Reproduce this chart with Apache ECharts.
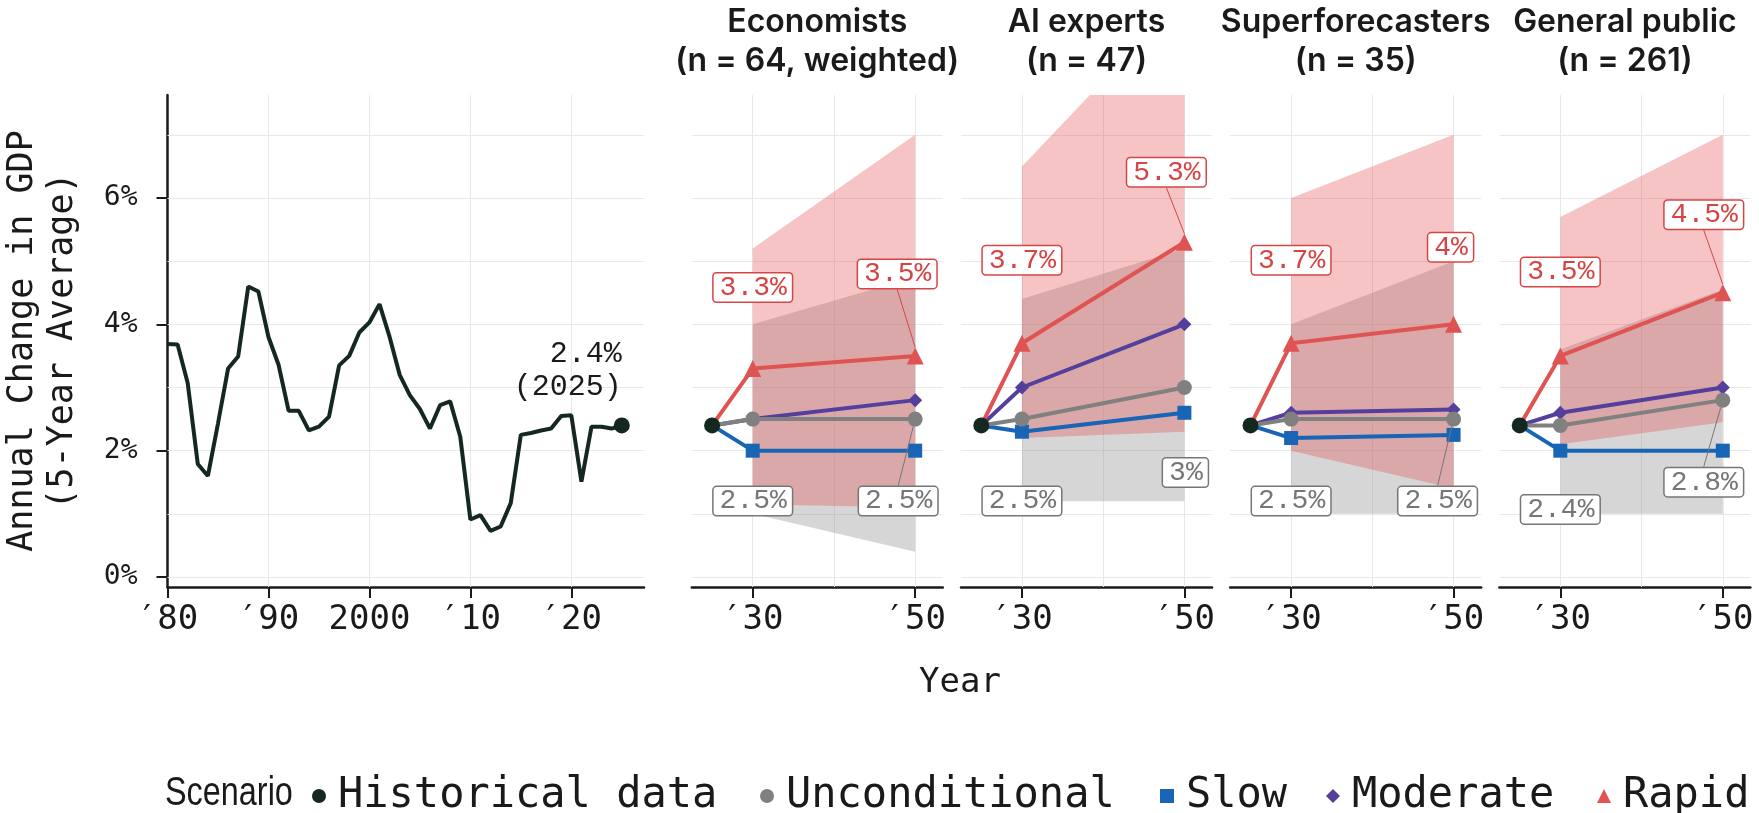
<!DOCTYPE html>
<html>
<head>
<meta charset="utf-8">
<script src="https://cdn.jsdelivr.net/npm/echarts@6/dist/echarts.min.js"></script>
<style>
html,body{margin:0;padding:0;background:#ffffff;}
#chart{width:1759px;height:813px;}
</style>
</head>
<body>
<div id="chart"></div>
<script>
// ---------------- DATA ----------------
const histYears = [1980,1981,1982,1983,1984,1985,1986,1987,1988,1989,
                   1990,1991,1992,1993,1994,1995,1996,1997,1998,1999,
                   2000,2001,2002,2003,2004,2005,2006,2007,2008,2009,
                   2010,2011,2012,2013,2014,2015,2016,2017,2018,2019,
                   2020,2021,2022,2023,2024,2025];
const histValues = [3.69,3.68,3.07,1.79,1.60,2.43,3.30,3.49,4.60,4.52,
                    3.80,3.36,2.63,2.63,2.32,2.38,2.54,3.35,3.50,3.87,
                    4.03,4.32,3.80,3.20,2.88,2.66,2.35,2.72,2.78,2.22,
                    0.91,0.98,0.73,0.80,1.17,2.25,2.28,2.32,2.35,2.55,
                    2.56,1.51,2.38,2.38,2.35,2.40];

const panelTitles = ['Economists\n(n = 64, weighted)', 'AI experts\n(n = 47)',
                     'Superforecasters\n(n = 35)', 'General public\n(n = 261)'];
const baseYear = 2025;
const baseValue = 2.4;
const forecastYears = [2030, 2050];

// median forecasts per panel: [2030, 2050]
const unconditional = [[2.5, 2.5], [2.5, 3.0], [2.5, 2.5], [2.4, 2.8]];
const slow          = [[2.0, 2.0], [2.3, 2.6], [2.2, 2.25], [2.0, 2.0]];
const moderate      = [[2.5, 2.8], [3.0, 4.0], [2.6, 2.65], [2.6, 3.0]];
const rapid         = [[3.3, 3.5], [3.7, 5.3], [3.7, 4.0], [3.5, 4.5]];

// ranges per panel: [2030, 2050]
const unconditionalLow  = [[1.0, 0.4], [1.2, 1.2], [1.0, 1.0], [1.0, 1.0]];
const unconditionalHigh = [[4.0, 4.75], [4.4, 5.2], [4.0, 5.0], [3.6, 4.55]];
const rapidLow          = [[1.15, 1.1], [2.2, 2.3], [2.0, 1.4], [2.1, 2.45]];
const rapidHigh         = [[5.2, 7.0], [6.5, 9.2], [6.0, 7.0], [5.7, 7.0]];

// axes
const histTicks = [1980, 1990, 2000, 2010, 2020];
const histTickLabels = ['\u203280', '\u203290', '2000', '\u203210', '\u203220'];
const histGridX = [1990, 2000, 2010, 2020];
const panelTicks = [2030, 2050];
const panelTickLabels = ['\u203230', '\u203250'];
const panelGridX = [2030, 2040, 2050];
const yTicks = [0, 2, 4, 6];
const yTickLabels = ['0%', '2%', '4%', '6%'];
const yGrid = [0, 1, 2, 3, 4, 5, 6, 7];

const legendNames = ['Historical data', 'Unconditional', 'Slow', 'Moderate', 'Rapid'];

// ---------------- LAYOUT / STYLE ----------------
const DARK = '#1a1a1a';
const MONO = '"DejaVu Sans Mono", monospace';
const LABEL_MONO = '"Liberation Mono", "DejaVu Sans Mono", monospace';
const COLORS = {
  'Historical data': '#15281f',
  'Unconditional': '#808080',
  'Slow': '#1765b4',
  'Moderate': '#553f9c',
  'Rapid': '#e05353'
};
const SYMBOLS = {'Historical data':'circle','Unconditional':'circle','Slow':'rect','Moderate':'diamond','Rapid':'triangle'};
const SYMBOL_SIZES = {'Historical data':16,'Unconditional':15,'Slow':14,'Moderate':14,'Rapid':17};
const Y_MIN = -0.158, Y_MAX = 7.63;
const PLOT_TOP = 95, PLOT_H = 492;
const HIST_LEFT = 167.5, HIST_W = 476.5, HIST_XMIN = 1980, HIST_XMAX = 2027.2;
const PANEL_LEFT0 = 691.8, PANEL_STEP = 269.2, PANEL_W = 251;
const PANEL_XMIN = 2022.5, PANEL_XMAX = 2053.4;
const GRID_COLOR = '#e8e8e8';
const BAND_GREY = 'rgba(140,140,140,0.36)';
const BAND_RED = 'rgba(226,72,72,0.32)';

// label placement (offsets of label centre from point, px) – layout only
const LABEL_OFFSETS = {
  'Rapid': [[[0,-81],[-18,-82]], [[0,-83],[-18,-70]], [[0,-83],[-3,-77]], [[0,-84],[-19,-78]]],
  'Unconditional': [[[0,82],[-17,82]], [[0,82],[1,85]], [[0,82],[-16,82]], [[0,84],[-19,82]]]
};
const LEADER = {
  'Rapid': [[false,true],[false,true],[false,false],[false,true]],
  'Unconditional': [[false,true],[false,false],[false,true],[false,true]]
};
const LEGEND_LEFT = [312, 760, 1160, 1326, 1597];

const fmtPct = v => (Math.round(v * 10) / 10) + '%';

// ---------------- OPTION ----------------
const grids = [{left: HIST_LEFT, top: PLOT_TOP, width: HIST_W, height: PLOT_H}];
const xAxes = [{
  gridIndex: 0, type: 'value', min: HIST_XMIN, max: HIST_XMAX,
  axisLine: {show: true, onZero: false, lineStyle: {color: DARK, width: 2.5}},
  axisTick: {show: true, customValues: histTicks, length: 11, lineStyle: {color: DARK, width: 2}},
  axisLabel: {customValues: histTicks, formatter: v => { const i = histTicks.indexOf(v); return i >= 0 ? histTickLabels[i] : ''; },
              fontFamily: MONO, fontSize: 34, color: DARK, margin: 16},
  splitLine: {show: false}
}];
const yAxes = [{
  gridIndex: 0, type: 'value', min: Y_MIN, max: Y_MAX,
  axisLine: {show: true, onZero: false, lineStyle: {color: DARK, width: 2.5}},
  axisTick: {show: true, customValues: yTicks, length: 11, lineStyle: {color: DARK, width: 2}},
  axisLabel: {customValues: yTicks, formatter: v => { const i = yTicks.indexOf(v); return i >= 0 ? yTickLabels[i] : ''; },
              fontFamily: MONO, fontSize: 28, color: DARK, margin: 30},
  splitLine: {show: false},
  name: 'Annual Change in GDP\n(5-Year Average)', nameLocation: 'middle', nameGap: 85, nameRotate: 90,
  nameTextStyle: {fontFamily: MONO, fontSize: 35, lineHeight: 40, color: DARK}
}];
const titles = [];
const series = [];

function gridMarkLine(xs) {
  return {
    silent: true, z: 1, symbol: ['none', 'none'], label: {show: false}, animation: false,
    emphasis: {disabled: true},
    lineStyle: {color: GRID_COLOR, width: 1, type: 'solid'},
    data: yGrid.map(v => ({yAxis: v})).concat(xs.map(v => ({xAxis: v})))
  };
}

// band between low and high, drawn as polygons through the axes
function bandSeries(gi, low, high, color) {
  const rows = [];
  for (let i = 0; i < forecastYears.length - 1; i++) {
    rows.push([forecastYears[i], low[i], high[i], forecastYears[i + 1], low[i + 1], high[i + 1]]);
  }
  return {
    type: 'custom', xAxisIndex: gi, yAxisIndex: gi, z: 2, silent: true, clip: true,
    encode: {x: [0, 3], y: [1, 2, 4, 5]},
    data: rows,
    renderItem: (params, api) => {
      const pts = [
        api.coord([api.value(0), api.value(2)]),
        api.coord([api.value(3), api.value(5)]),
        api.coord([api.value(3), api.value(4)]),
        api.coord([api.value(0), api.value(1)])
      ];
      const cs = params.coordSys;
      return {
        type: 'group',
        clipPath: {type: 'rect', shape: {x: cs.x, y: cs.y, width: cs.width, height: cs.height}},
        children: [{type: 'polygon', shape: {points: pts}, style: {fill: color}}]
      };
    }
  };
}

// historical panel
series.push({
  name: 'Historical data', type: 'line', xAxisIndex: 0, yAxisIndex: 0, z: 3,
  symbol: 'none', lineStyle: {color: COLORS['Historical data'], width: 4}, itemStyle: {color: COLORS['Historical data']},
  emphasis: {disabled: true},
  data: histYears.map((y, i) => {
    if (i === histYears.length - 1) {
      return {
        value: [y, histValues[i]], symbol: 'circle', symbolSize: SYMBOL_SIZES['Historical data'],
        label: {show: true, formatter: p => fmtPct(p.value[1]) + '\n(' + p.value[0] + ')',
                position: [8, -14], align: 'right', verticalAlign: 'bottom',
                fontFamily: LABEL_MONO, fontSize: 30, lineHeight: 33, color: DARK}
      };
    }
    return [y, histValues[i]];
  }),
  markLine: gridMarkLine(histGridX)
});

for (let p = 0; p < 4; p++) {
  const gi = p + 1;
  const left = PANEL_LEFT0 + p * PANEL_STEP;
  grids.push({left: left, top: PLOT_TOP, width: PANEL_W, height: PLOT_H});
  xAxes.push({
    gridIndex: gi, type: 'value', min: PANEL_XMIN, max: PANEL_XMAX,
    axisLine: {show: true, onZero: false, lineStyle: {color: DARK, width: 2.5}},
    axisTick: {show: true, customValues: panelTicks, length: 11, lineStyle: {color: DARK, width: 2}},
    axisLabel: {customValues: panelTicks, formatter: v => { const i = panelTicks.indexOf(v); return i >= 0 ? panelTickLabels[i] : ''; },
                fontFamily: MONO, fontSize: 34, color: DARK, margin: 16},
    splitLine: {show: false}
  });
  yAxes.push({gridIndex: gi, type: 'value', min: Y_MIN, max: Y_MAX, show: false, splitLine: {show: false}});
  titles.push({
    text: panelTitles[p], left: left + PANEL_W / 2, top: 3, textAlign: 'center', padding: 0,
    textStyle: {fontFamily: 'Inter, "Noto Sans", sans-serif', fontWeight: 600, fontSize: 32, lineHeight: 39, color: DARK}
  });

  series.push(bandSeries(gi, unconditionalLow[p], unconditionalHigh[p], BAND_GREY));
  series.push(bandSeries(gi, rapidLow[p], rapidHigh[p], BAND_RED));

  const scen = [['Slow', slow], ['Moderate', moderate], ['Unconditional', unconditional], ['Rapid', rapid]];
  scen.forEach(([name, arr], si) => {
    const labelled = (name === 'Rapid' || name === 'Unconditional');
    const col = COLORS[name];
    const labelColor = name === 'Rapid' ? '#d64545' : '#767676';
    const data = [{value: [baseYear, baseValue], symbol: 'none'}];
    forecastYears.forEach((y, i) => {
      const item = {value: [y, arr[p][i]]};
      if (labelled) {
        item.label = {
          show: true, formatter: pp => fmtPct(pp.value[1]),
          fontFamily: LABEL_MONO, fontSize: 28, lineHeight: 24, color: labelColor,
          backgroundColor: '#ffffff', borderColor: labelColor, borderWidth: 1.5, borderRadius: 3,
          padding: [2, 5, 2, 6]
        };
        item.labelLine = {show: LEADER[name][p][i], lineStyle: {color: labelColor, width: 1}};
      }
      data.push(item);
    });
    series.push({
      name: name, type: 'line', xAxisIndex: gi, yAxisIndex: gi, z: 3 + si,
      symbol: SYMBOLS[name], symbolSize: SYMBOL_SIZES[name],
      lineStyle: {color: col, width: 4}, itemStyle: {color: col},
      emphasis: {disabled: true},
      labelLayout: labelled ? (params) => {
        const off = LABEL_OFFSETS[name][p][params.dataIndex - 1];
        if (!off) return {};
        const cx = params.rect.x + params.rect.width / 2;
        const cy = params.rect.y + params.rect.height / 2;
        return {x: cx + off[0], y: cy + off[1], align: 'center', verticalAlign: 'middle'};
      } : undefined,
      markLine: name === 'Slow' ? gridMarkLine(panelGridX) : undefined,
      data: data
    });
  });

  series.push({
    name: 'Historical data', type: 'scatter', xAxisIndex: gi, yAxisIndex: gi, z: 8,
    symbol: 'circle', symbolSize: SYMBOL_SIZES['Historical data'], itemStyle: {color: COLORS['Historical data'], opacity: 1},
    emphasis: {disabled: true},
    data: [[baseYear, baseValue]]
  });
}

titles.push({
  text: 'Year', left: 960, top: 666, textAlign: 'center', padding: 0,
  textStyle: {fontFamily: MONO, fontWeight: 'normal', fontSize: 34, color: DARK}
});

const legends = legendNames.map((n, i) => ({
  left: LEGEND_LEFT[i], top: 775, padding: 0, itemWidth: 14, itemHeight: 14, selectedMode: false,
  textStyle: {fontFamily: MONO, fontSize: 42, color: DARK, padding: [0, 0, 0, 7]},
  data: [{name: n, icon: SYMBOLS[n], itemStyle: {color: COLORS[n]}}]
}));

const option = {
  animation: false,
  backgroundColor: '#ffffff',
  title: titles,
  legend: legends,
  graphic: [{
    type: 'text', left: 165, top: 774, scaleX: 0.81, originX: 0,
    style: {text: 'Scenario', font: 'normal 40px "Liberation Sans", sans-serif', fill: DARK}
  }],
  grid: grids,
  xAxis: xAxes,
  yAxis: yAxes,
  series: series
};

const chart = echarts.init(document.getElementById('chart'), null, {renderer: 'canvas'});
chart.setOption(option);
</script>
</body>
</html>
